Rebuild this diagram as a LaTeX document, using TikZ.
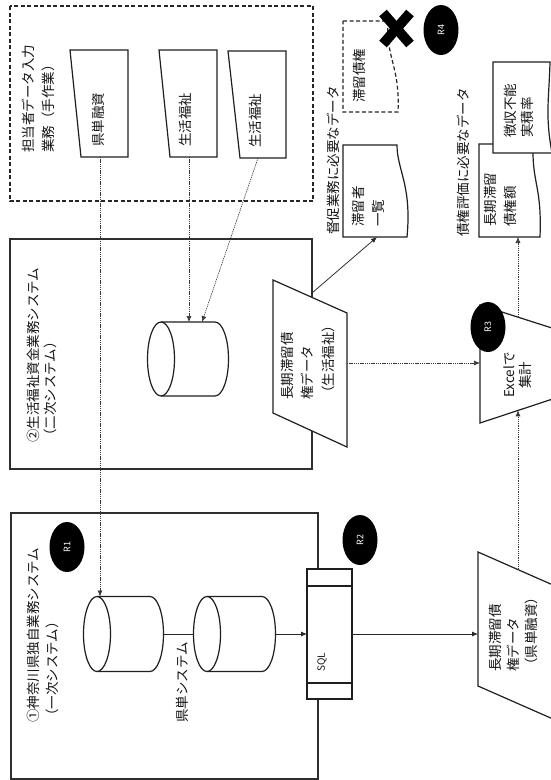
\documentclass[tikz,border=0pt]{standalone}
\usepackage{fontspec}
\newfontfamily\jp{Noto Sans CJK JP}
\usetikzlibrary{arrows.meta,shapes.geometric}
\begin{document}
\begin{tikzpicture}[x=1pt,y=-1pt,
  line join=miter,
  frame/.style={draw=black!82, line width=1.2pt},
  shp/.style={draw=black!88, line width=1.2pt, fill=white},
  dashframe/.style={draw=black!85, line width=1.2pt, dash pattern=on 4pt off 2.5pt},
  dotarrow/.style={draw=black!78, line width=0.65pt, dash pattern=on 1.3pt off 0.9pt, -{Latex[length=6pt,width=5pt]}},
  solidarrow/.style={draw=black!85, line width=0.75pt, -{Latex[length=6pt,width=5pt]}},
  lbl/.style={font=\jp\fontsize{13.5}{#1}\selectfont, rotate=90, inner sep=0pt, anchor=west, align=left, text=black!92},
  lbl/.default=20,
  rbadge/.style={ellipse, fill=black, text=white, font=\jp\fontsize{9}{10}\selectfont, minimum width=50pt, minimum height=35pt, inner sep=0pt, rotate=90},
  small/.style={font=\jp\fontsize{10}{12}\selectfont, rotate=90, inner sep=0pt, text=black!90},
]
\useasboundingbox (0,0) rectangle (550,780);
\fill[white] (0,0) rectangle (550,780);

% frames
\draw[dashframe] (10,6) rectangle (313,201);
\draw[frame] (10,239) rectangle (312,469);
\draw[frame] (11,513) rectangle (318,779);

% named connector points
\coordinate (kenOut) at (100,157);
\coordinate (sei1Out) at (189,157);
\coordinate (sei2Out) at (258,158);
\coordinate (cylAin) at (100,596.5);
\coordinate (cylC1) at (189,322);
\coordinate (cylC2) at (202,322);
\coordinate (cylAout) at (163.5,634);
\coordinate (cylBin) at (193.5,634);
\coordinate (cylBout) at (275.5,634);
\coordinate (sqlIn) at (307,634);
\coordinate (sqlOut) at (352,634);
\coordinate (d1In) at (478,634);
\coordinate (d1Up) at (518,569.6);
\coordinate (xlBot) at (518,410.3);
\coordinate (d2Out) at (347,363);
\coordinate (xlIn) at (480,363);
\coordinate (xlTop) at (518,317.2);
\coordinate (docLBot) at (518,237);
\coordinate (d2Up) at (312,293);
\coordinate (docTBot) at (377,237);

% dotted input lines
\draw[dotarrow] (kenOut) -- (cylAin);
\draw[dotarrow] (sei1Out) -- (cylC1);
\draw[dotarrow] (sei2Out) -- (cylC2);

% manual input shapes
\draw[shp] (70,50) -- (128,50) -- (128,157) -- (81,157) -- cycle;
\draw[shp] (159,50) -- (217,50) -- (217,157) -- (170,157) -- cycle;
\draw[shp] (228,51) -- (286,51) -- (286,158) -- (240,158) -- cycle;

% cylinders
\draw[shp] (97,596.5) -- (150,596.5) arc[start angle=90,end angle=-90,x radius=13.5pt,y radius=37.5pt] -- (97,671.5);
\draw[shp] (97,634) ellipse[x radius=13.5pt,y radius=37.5pt];
\draw[shp] (207,596.5) -- (262,596.5) arc[start angle=90,end angle=-90,x radius=13.5pt,y radius=37.5pt] -- (207,671.5);
\draw[shp] (207,634) ellipse[x radius=13.5pt,y radius=37.5pt];
\draw[shp] (161,322) -- (215,322) arc[start angle=90,end angle=-90,x radius=13.5pt,y radius=37pt] -- (161,396);
\draw[shp] (161,359) ellipse[x radius=13.5pt,y radius=37pt];

\draw[draw=black!85, line width=0.8pt] (cylAout) -- (cylBin);
\draw[solidarrow] (cylBout) -- (sqlIn);

% SQL box
\draw[shp] (307,569) rectangle (352,699);
\draw[draw=black!88, line width=1.2pt] (307,586) -- (352,586);
\draw[draw=black!88, line width=1.2pt] (307,683) -- (352,683);
\draw[solidarrow] (sqlOut) -- (d1In);

% data shapes
\draw[shp] (478,552) -- (575,594.7) -- (575,728.7) -- (478,686) -- cycle;
\draw[shp] (273,280) -- (347,313) -- (347,447) -- (273,413) -- cycle;
% Excel trapezoid
\draw[shp] (480,305) -- (575,335.4) -- (575,391.6) -- (480,423) -- cycle;

\draw[dotarrow] (d1Up) -- (xlBot);
\draw[dotarrow] (d2Out) -- (xlIn);
\draw[dotarrow] (xlTop) -- (docLBot);
\draw[solidarrow] (d2Up) -- (docTBot);

% documents
\draw[shp] (343,145) -- (397,145) .. controls (397,170) and (412,185) .. (407,237) -- (343,237) -- cycle;
\draw[dashframe, fill=white] (343,21) -- (388,21) .. controls (386,60) and (400,65) .. (398,112) -- (343,112) -- cycle;
\draw[shp] (479,144) -- (533,144) .. controls (532,185) and (542,185) .. (540,237) -- (479,237) -- cycle;
\draw[shp] (493,62) -- (550,62) .. controls (549,100) and (545,115) .. (552,153) -- (493,153) -- cycle;

% X mark
\draw[black, line width=10pt] (383,13) -- (410,44);
\draw[black, line width=10pt] (410,13) -- (383,44);

% badges
\node[rbadge] (r1) at (67,547) {R1};
\node[rbadge] (r2) at (360,540) {R2};
\node[rbadge] (r3) at (488,327) {R3};
\node[rbadge] (r4) at (441,30) {R4};

% texts
\node[lbl=20] (tin) at (38,153) {担当者データ入力\\業務（手作業）};
\node[lbl=17] (tsys2) at (41.5,443) {②生活福祉資金業務システム\\（二次システム）};
\node[lbl=19] (tsys1) at (42.5,723) {①神奈川県独自業務システム\\（一次システム）};
\node[lbl] (tken) at (98,147) {県単融資};
\node[lbl] (tsei1) at (185,147) {生活福祉};
\node[lbl] (tsei2) at (255,148) {生活福祉};
\node[lbl] (tkensys) at (182,723) {県単システム};
\node[small] (tsql) at (322,662) {SQL};
\node[lbl=18] (td1) at (513,672) {長期滞留債\\権データ\\（県単融資）};
\node[lbl=20.5] (td2) at (307.5,400) {長期滞留債\\権データ\\（生活福祉）};
\node[lbl=16, anchor=center, align=center] (txl) at (518,375) {Excelで\\集計};
\node[lbl=20] (ttai) at (368,227) {滞留者\\一覧};
\node[lbl] (ttoku) at (333,235) {督促業務に必要なデータ};
\node[lbl] (ttaisai) at (359,103) {滞留債権};
\node[lbl=20] (tchoki) at (500,227) {長期滞留\\債権額};
\node[lbl=17] (tchoshu) at (518.5,138) {徴収不能\\実積率};
\node[lbl] (tsaiken) at (463,237) {債権評価に必要なデータ};
\end{tikzpicture}
\end{document}
